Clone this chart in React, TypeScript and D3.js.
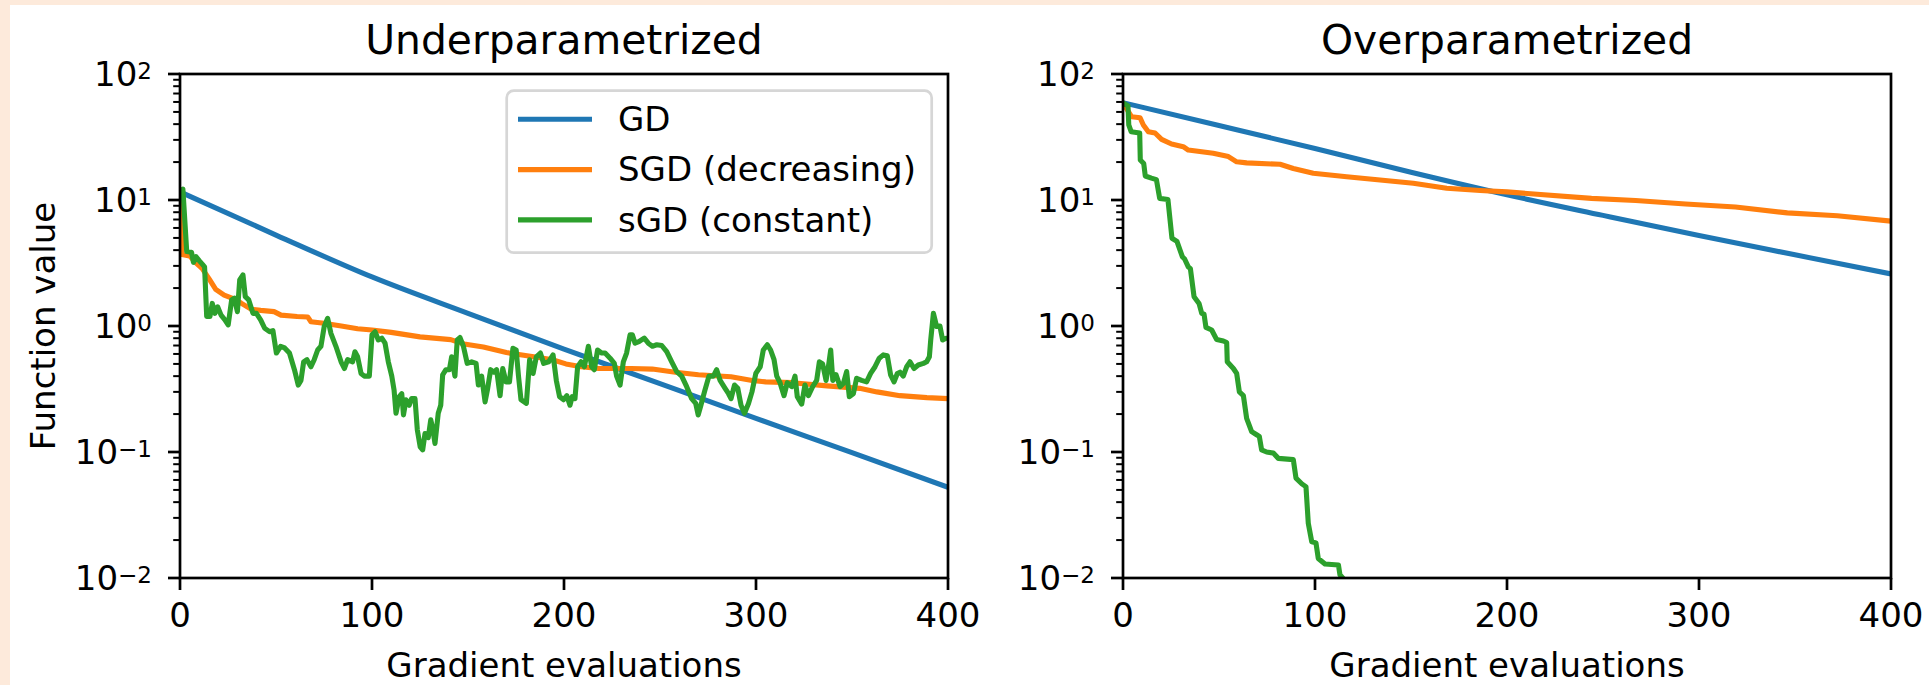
import * as d3 from 'd3';
import { useEffect, useRef } from 'react';

// tick values
const xTicks = [0, 100, 200, 300, 400];
const yTickExps = [2, 1, 0, -1, -2];

const seriesNames = ['GD', 'SGD (decreasing)', 'sGD (constant)'];
const seriesColors = ['#1f77b4', '#ff7f0e', '#2ca02c'];

// [gradient evaluations, function value]
const underGD = [
  [0, 11.6], [50, 5.27], [100, 2.45], [150, 1.26], [200, 0.656],
  [250, 0.349], [300, 0.185], [350, 0.0989], [400, 0.0525],
];

const underSGD = [
  [0, 11.6], [1, 3.7], [5, 3.6], [8, 3.2], [11.6, 2.85], [15, 2.39], [18.6, 1.95],
  [23, 1.76], [27.4, 1.66], [31.8, 1.52], [37, 1.36], [42, 1.33], [49, 1.30],
  [52.6, 1.22], [61, 1.19], [66.5, 1.18], [68.2, 1.08], [75, 1.05], [84, 1.0],
  [92.5, 0.95], [100, 0.93], [110, 0.89], [125, 0.82], [141, 0.78], [148, 0.72],
  [158, 0.68], [170, 0.615], [179, 0.585], [186, 0.565], [194, 0.54], [201, 0.5],
  [209, 0.475], [218, 0.46], [235, 0.46], [246, 0.455], [258, 0.43], [270, 0.41],
  [287, 0.395], [298, 0.37], [305, 0.36], [319, 0.355], [337, 0.335], [354, 0.32],
  [363, 0.3], [375, 0.28], [389, 0.27], [400, 0.265],
];

const underConst = [
  [0, 11.6], [1.5, 12.2], [3.5, 3.9], [6, 3.85], [7, 3.2], [8.3, 3.55], [10, 3.3],
  [11.6, 3.1], [12.8, 2.95], [13.9, 1.19], [15.6, 1.19], [16.8, 1.51], [18.2, 1.26],
  [19.6, 1.42], [21.4, 1.22], [23.4, 1.12], [25.1, 1.02], [26.9, 1.61], [28.3, 1.66],
  [29.9, 1.3], [31.1, 2.32], [32.8, 2.54], [34, 1.71], [35.8, 1.61], [38, 1.26],
  [39.8, 1.26], [42, 1.12], [44.1, 0.96], [46.7, 0.9], [48.4, 0.92], [50.2, 0.61],
  [52.4, 0.69], [54.5, 0.67], [57, 0.61], [59.6, 0.45], [61.6, 0.34], [63, 0.37],
  [64.4, 0.52], [66.1, 0.54], [68.2, 0.475], [69.9, 0.54], [71.7, 0.645], [73.4, 0.69],
  [75.1, 0.99], [76.9, 1.15], [78.6, 0.875], [81.2, 0.69], [83.9, 0.52], [85.6, 0.46],
  [87.3, 0.54], [89.9, 0.52], [91.1, 0.625], [92.5, 0.57], [94.3, 0.42], [96, 0.4],
  [98.6, 0.4], [100, 0.85], [101.6, 0.9], [103.3, 0.775], [105.1, 0.8], [106.8, 0.73],
  [108.5, 0.52], [110.3, 0.4], [111.5, 0.31], [112.5, 0.203], [114.2, 0.275],
  [115.5, 0.29], [116.4, 0.197], [117.7, 0.26], [119.4, 0.235], [120.6, 0.265],
  [122.4, 0.265], [123.6, 0.15], [125.1, 0.11], [126.4, 0.104], [127.6, 0.14],
  [129.3, 0.13], [130.6, 0.18], [131.6, 0.154], [132.8, 0.117], [134.5, 0.203],
  [135.8, 0.235], [136.8, 0.41], [138.5, 0.45], [140.3, 0.45], [141.5, 0.57],
  [143.2, 0.4], [144.4, 0.775], [145.8, 0.81], [147.6, 0.69], [149.6, 0.505],
  [151.9, 0.52], [154.2, 0.505], [155.4, 0.34], [157.1, 0.4], [158.9, 0.25],
  [160.1, 0.31], [161.8, 0.45], [163.5, 0.43], [164.9, 0.45], [166.7, 0.28],
  [168.1, 0.46], [169.8, 0.36], [171.6, 0.36], [173.4, 0.665], [175.1, 0.645],
  [176.3, 0.4], [177.6, 0.26], [180.4, 0.243], [182.1, 0.54], [183.9, 0.42],
  [185.6, 0.57], [187.7, 0.61], [189.4, 0.505], [192, 0.52], [194.3, 0.59],
  [196, 0.37], [197.7, 0.275], [199.8, 0.26], [201.5, 0.28], [203.1, 0.235],
  [204.3, 0.275], [205.7, 0.265], [207.1, 0.475], [208.9, 0.52], [210.6, 0.475],
  [212.7, 0.69], [214.4, 0.475], [215.8, 0.45], [217.5, 0.645], [219.6, 0.61],
  [221.4, 0.61], [224, 0.555], [226.2, 0.505], [227.4, 0.4], [229.2, 0.34],
  [230.9, 0.52], [232.6, 0.61], [234.4, 0.85], [235.6, 0.85], [237, 0.73],
  [239, 0.75], [241.8, 0.8], [243.9, 0.73], [246, 0.69], [248.3, 0.71], [250.9, 0.7],
  [253.5, 0.625], [256.1, 0.52], [258.7, 0.435], [261.3, 0.4], [263.9, 0.33],
  [266.5, 0.265], [268.6, 0.243], [269.9, 0.197], [271.3, 0.235], [273.4, 0.31],
  [275.5, 0.4], [277.8, 0.4], [279.5, 0.45], [281.3, 0.37], [283.9, 0.32],
  [285.7, 0.29], [287, 0.265], [288.8, 0.34], [290.5, 0.32], [292.2, 0.235],
  [294, 0.203], [296.1, 0.243], [297.9, 0.3], [299.9, 0.42], [302.2, 0.475],
  [303.8, 0.645], [305.9, 0.71], [307.6, 0.645], [309.4, 0.54], [310.8, 0.4],
  [312.5, 0.355], [314.6, 0.28], [316.3, 0.355], [318.6, 0.33], [320.3, 0.4],
  [321.5, 0.275], [323.8, 0.24], [325.5, 0.34], [327.3, 0.28], [329.5, 0.33],
  [331.6, 0.37], [333, 0.52], [334.7, 0.5], [336.5, 0.37], [337.7, 0.475],
  [338.9, 0.645], [340, 0.37], [341.7, 0.41], [343.8, 0.33], [345.5, 0.35],
  [347.2, 0.435], [348.6, 0.275], [350.7, 0.29], [352.4, 0.385], [355, 0.37],
  [357.6, 0.36], [359.7, 0.42], [362, 0.475], [364.2, 0.555], [366.3, 0.59],
  [368.4, 0.58], [370.1, 0.41], [371.9, 0.36], [373.6, 0.42], [375, 0.43],
  [376.7, 0.4], [378.5, 0.475], [380.2, 0.52], [382.3, 0.46], [384.5, 0.49],
  [387.2, 0.505], [388.9, 0.52], [390.3, 0.57], [391, 0.775], [392.4, 1.26],
  [394.1, 0.99], [395.8, 1.0], [397.2, 0.775], [399, 0.8], [400, 0.8],
];

const overGD = [
  [0, 59.2], [50, 39.0], [100, 25.6], [150, 16.6], [200, 11.0],
  [250, 7.55], [300, 5.22], [350, 3.67], [400, 2.59],
];

const overSGD = [
  [0, 59], [4.5, 45.8], [8.9, 45], [10.6, 39.4], [13.2, 34.8], [16.7, 34],
  [20.1, 30.3], [25.3, 27.8], [31.4, 26.5], [34, 24.9], [47, 23.5], [54.9, 22.1],
  [59.2, 20.1], [64.4, 19.7], [81.8, 19.2], [88.7, 17.8], [99.1, 16.3], [116.5, 15.3],
  [133.9, 14.4], [151.2, 13.6], [168.6, 12.4], [186, 11.9], [200, 11.6], [244, 10.3],
  [267, 9.9], [293, 9.3], [319, 8.8], [346, 7.9], [372, 7.5], [400, 6.8],
];

const overConst = [
  [0, 59], [2.6, 55.7], [3, 39.4], [4.3, 34.8], [8.7, 34], [9, 20.8], [10.8, 19.5],
  [11.6, 15.5], [14.8, 14.9], [17.4, 14.5], [19.1, 10.3], [23.4, 10.1], [25.5, 4.97],
  [28.1, 4.7], [30.9, 3.55], [32.1, 3.4], [34, 2.95], [35.1, 2.85], [37, 1.71],
  [39.6, 1.51], [41, 1.26], [42.2, 1.24], [43.2, 0.976], [46.2, 0.93], [48.8, 0.78],
  [52.3, 0.76], [54, 0.74], [54.3, 0.52], [57.5, 0.46], [59.2, 0.42], [60.6, 0.3],
  [62.7, 0.28], [64.4, 0.185], [67, 0.145], [69.6, 0.137], [71, 0.133], [72.2, 0.104],
  [74.8, 0.1], [78.3, 0.098], [80.9, 0.089], [88.7, 0.087], [90.1, 0.062], [93.1, 0.056],
  [95.3, 0.053], [96.5, 0.0272], [98.3, 0.0194], [100.5, 0.019], [101.7, 0.0143],
  [105.2, 0.0129], [112.2, 0.0127], [113, 0.0106], [115, 0.0098], [118, 0.008],
];

const W = 1929;
const H = 685;
const FONT = "'DejaVu Sans', sans-serif";
const top = 74;
const bottom = 578;

const drawPanel = (svg, opts) => {
  const { left, right, title, lines, id, yLabel, legend } = opts;
  const x = d3.scaleLinear().domain([0, 400]).range([left, right]);
  const y = d3.scaleLog().domain([0.01, 100]).range([bottom, top]);

  svg
    .append('clipPath')
    .attr('id', id)
    .append('rect')
    .attr('x', left)
    .attr('y', top)
    .attr('width', right - left)
    .attr('height', bottom - top);

  const line = d3
    .line()
    .x((d) => x(d[0]))
    .y((d) => y(d[1]));
  // GD is a smooth curve, the stochastic ones are drawn point to point
  const smoothLine = d3
    .line()
    .curve(d3.curveMonotoneX)
    .x((d) => x(d[0]))
    .y((d) => y(d[1]));

  lines.forEach((data, i) => {
    svg
      .append('path')
      .attr('d', i === 0 ? smoothLine(data) : line(data))
      .attr('clip-path', `url(#${id})`)
      .attr('fill', 'none')
      .attr('stroke', seriesColors[i])
      .attr('stroke-width', 5.1)
      .attr('stroke-linejoin', 'round')
      .attr('stroke-linecap', 'butt');
  });

  // minor log ticks, 2..9 in each decade
  const minor = [];
  for (let e = -2; e < 2; e++) {
    for (let k = 2; k < 10; k++) minor.push(k * Math.pow(10, e));
  }
  svg
    .append('g')
    .selectAll('line')
    .data(minor)
    .enter()
    .append('line')
    .attr('x1', left - 6.8)
    .attr('x2', left)
    .attr('y1', (d) => y(d))
    .attr('y2', (d) => y(d))
    .attr('stroke', 'black')
    .attr('stroke-width', 2);

  svg
    .append('g')
    .selectAll('line')
    .data(yTickExps)
    .enter()
    .append('line')
    .attr('x1', left - 12)
    .attr('x2', left)
    .attr('y1', (e) => y(Math.pow(10, e)))
    .attr('y2', (e) => y(Math.pow(10, e)))
    .attr('stroke', 'black')
    .attr('stroke-width', 2.7);

  svg
    .append('g')
    .selectAll('line')
    .data(xTicks)
    .enter()
    .append('line')
    .attr('x1', (d) => x(d))
    .attr('x2', (d) => x(d))
    .attr('y1', bottom)
    .attr('y2', bottom + 12)
    .attr('stroke', 'black')
    .attr('stroke-width', 2.7);

  // y tick labels as 10 with superscript exponent
  yTickExps.forEach((e) => {
    const t = svg
      .append('text')
      .attr('x', left - 28)
      .attr('y', y(Math.pow(10, e)) + 12.4)
      .attr('text-anchor', 'end')
      .style('font-family', FONT)
      .style('font-size', '34px');
    t.append('tspan').text('10');
    t.append('tspan')
      .attr('dy', -7)
      .style('font-size', '23px')
      .text(e < 0 ? '\u2212' + Math.abs(e) : String(e));
  });

  xTicks.forEach((v) => {
    svg
      .append('text')
      .attr('x', x(v))
      .attr('y', 627)
      .attr('text-anchor', 'middle')
      .style('font-family', FONT)
      .style('font-size', '34px')
      .text(v);
  });

  svg
    .append('rect')
    .attr('x', left)
    .attr('y', top)
    .attr('width', right - left)
    .attr('height', bottom - top)
    .attr('fill', 'none')
    .attr('stroke', 'black')
    .attr('stroke-width', 2.7);

  svg
    .append('text')
    .attr('x', (left + right) / 2)
    .attr('y', 54)
    .attr('text-anchor', 'middle')
    .style('font-family', FONT)
    .style('font-size', '40.8px')
    .text(title);

  svg
    .append('text')
    .attr('x', (left + right) / 2)
    .attr('y', 677)
    .attr('text-anchor', 'middle')
    .style('font-family', FONT)
    .style('font-size', '34px')
    .text('Gradient evaluations');

  if (yLabel) {
    svg
      .append('text')
      .attr('transform', `translate(55,${(top + bottom) / 2}) rotate(-90)`)
      .attr('text-anchor', 'middle')
      .style('font-family', FONT)
      .style('font-size', '34px')
      .text(yLabel);
  }

  if (legend) {
    const lg = svg.append('g');
    lg.append('rect')
      .attr('x', 506.7)
      .attr('y', 90.7)
      .attr('width', 425)
      .attr('height', 162)
      .attr('rx', 7)
      .attr('fill', 'white')
      .attr('fill-opacity', 0.8)
      .attr('stroke', '#cccccc')
      .attr('stroke-opacity', 0.8)
      .attr('stroke-width', 2.7);
    seriesNames.forEach((name, i) => {
      lg.append('line')
        .attr('x1', 518)
        .attr('x2', 592)
        .attr('y1', 119.3 + i * 50.3)
        .attr('y2', 119.3 + i * 50.3)
        .attr('stroke', seriesColors[i])
        .attr('stroke-width', 5.1);
      lg.append('text')
        .attr('x', 618)
        .attr('y', 131 + i * 50.4)
        .style('font-family', FONT)
        .style('font-size', '34px')
        .text(name);
    });
  }
};

const App = () => {
  const chartRef = useRef(null);

  useEffect(() => {
    const svg = d3.select(chartRef.current);
    svg.selectAll('*').remove();

    svg.append('rect').attr('width', W).attr('height', H).attr('fill', '#fdeadb');
    svg
      .append('rect')
      .attr('x', 10)
      .attr('y', 5)
      .attr('width', W - 10)
      .attr('height', H - 5)
      .attr('fill', 'white');

    drawPanel(svg, {
      id: 'clip-under',
      left: 180,
      right: 948,
      title: 'Underparametrized',
      lines: [underGD, underSGD, underConst],
      yLabel: 'Function value',
      legend: true,
    });
    drawPanel(svg, {
      id: 'clip-over',
      left: 1123,
      right: 1891,
      title: 'Overparametrized',
      lines: [overGD, overSGD, overConst],
      yLabel: null,
      legend: false,
    });
  }, []);

  return (
    <svg
      ref={chartRef}
      width={W}
      height={H}
      style={{ position: 'absolute', left: 0, top: 0, display: 'block' }}
    />
  );
};

export default App;
